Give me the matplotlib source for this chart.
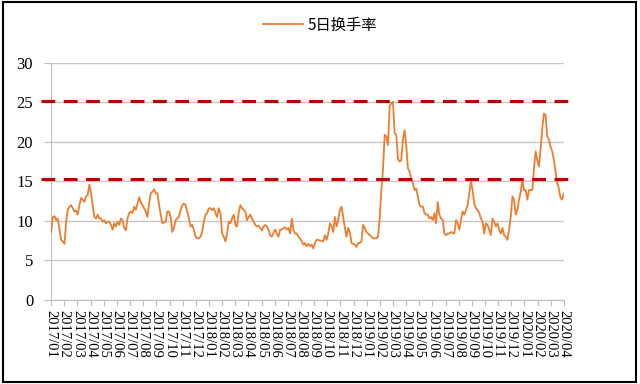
import numpy as np
import matplotlib
matplotlib.use("Agg")
import matplotlib.pyplot as plt
from matplotlib.patches import Rectangle

# 月度刻度标签 2017/01 - 2020/04
months = [f"{y}/{m:02d}" for y in range(2017, 2021) for m in range(1, 13)][:40]

# 5日换手率 (从图上读取, 大致等间隔采样)
turnover_2017_2018 = [
    8.6, 10.5, 10.6, 10.1, 10.3, 8.9, 7.6, 7.4, 7.1, 9.9, 11.4, 11.8, 12.0, 11.6, 11.2,
    11.3, 10.8, 12.0, 12.9, 12.7, 12.4, 13.1, 13.3, 14.6, 13.5, 12.0, 10.5, 10.3, 10.8,
    10.3, 10.3, 9.9, 10.1, 9.7, 9.9, 9.9, 9.5, 8.9, 9.7, 9.3, 9.9, 9.5, 10.3, 10.1, 9.1,
    8.8, 10.3, 11.0, 11.2, 11.0, 11.8, 11.4, 12.2, 13.0, 12.4, 12.0, 11.6, 11.2, 10.5,
    12.2, 13.5, 13.7, 14.0, 13.5, 13.5, 12.0, 10.8, 9.7, 9.8, 9.9, 11.2, 11.2, 10.5, 8.6,
    9.1, 10.1, 10.3, 10.5, 11.4, 12.0, 12.2, 12.0, 11.2, 10.3, 9.3, 9.5, 8.9, 8.0, 7.8,
    7.8, 8.0, 8.6, 9.9, 10.8, 11.0, 11.6, 11.6, 11.4, 11.6, 11.0, 10.5, 11.6, 11.0, 8.4,
    8.0, 7.4, 8.4, 9.9, 9.7, 10.3, 10.8, 9.5, 9.3, 11.0, 12.0, 11.6, 11.4, 11.2, 10.1,
    10.5, 10.8, 10.3, 9.9, 9.5, 9.3, 9.4, 9.1, 8.8, 9.3, 9.5, 9.3, 8.9, 8.2, 8.0, 8.5,
    8.9, 8.4, 8.0, 8.9, 8.9, 9.1, 9.2, 8.9, 9.1, 8.4, 10.3, 8.9, 8.4, 8.4, 8.0, 7.8, 7.4,
    7.0, 7.2, 6.8, 7.1, 6.8, 7.0, 6.5, 7.2, 7.6, 7.6, 7.5, 7.5, 7.4, 8.2, 7.6, 8.4, 9.7,
    9.3, 8.6, 10.5,
]
turnover_2018_2020 = [
    9.3, 10.1, 11.4, 11.8, 10.5, 9.1, 8.0, 9.1, 8.6, 7.2, 7.1, 7.0, 6.7, 7.2, 7.2, 7.4,
    9.5, 9.1, 8.6, 8.4, 8.2, 8.0, 7.8, 7.8, 7.8, 8.0, 10.3, 13.9, 16.5, 20.9, 20.7, 19.6,
    24.5, 24.9, 25.1, 21.1, 20.9, 17.9, 17.5, 17.7, 20.3, 21.5, 19.6, 16.7, 16.2, 15.4,
    14.8, 13.9, 14.1, 13.1, 12.0, 11.8, 11.8, 11.0, 10.8, 10.8, 10.3, 10.5, 10.1, 11.0,
    9.7, 12.4, 10.8, 10.3, 10.1, 8.4, 8.2, 8.4, 8.4, 8.6, 8.5, 8.4, 10.1, 9.7, 8.9, 10.1,
    11.2, 10.8, 11.4, 12.0, 13.5, 15.0, 13.9, 12.2, 11.6, 11.4, 11.0, 10.3, 9.9, 8.4, 9.7,
    9.5, 8.9, 8.2, 10.3, 9.9, 9.3, 9.7, 8.9, 8.4, 9.1, 8.2, 8.0, 7.6, 8.9, 10.5, 13.1,
    12.7, 10.8, 11.4, 12.7, 13.7, 15.2, 13.9, 13.9, 12.7, 13.9, 13.9, 13.9, 16.7, 18.8,
    17.7, 16.9, 19.2, 21.7, 23.6, 23.4, 20.7, 20.3, 19.4, 18.8, 17.7, 16.2, 14.8, 14.1,
    12.9, 12.7, 13.5,
]
turnover = turnover_2017_2018 + turnover_2018_2020

# 参考线
upper_line = 25.2
lower_line = 15.3

plt.rcParams['font.family'] = ['Liberation Serif', 'Noto Sans CJK SC']

fig = plt.figure(figsize=(6.4, 3.84), dpi=100)
ax = fig.add_axes([0.08, 0.219, 0.801, 0.617])

x = np.linspace(0, len(months) - 1, len(turnover))
ax.plot(x, turnover, color='#ed7d31', lw=1.3, label='5日换手率', zorder=3)

# 红色虚线, 略超出绘图区
for lvl in (upper_line, lower_line):
    ax.axhline(lvl, xmin=-0.02, xmax=1.016, color='#c00000', lw=2.2,
               dashes=(4.5, 2.8), clip_on=False, zorder=4)

ax.set_xlim(0, len(months) - 1)
ax.set_ylim(0, 30)
ax.set_yticks(range(0, 31, 5))
ax.set_xticks(range(len(months)))
ax.set_xticklabels(months, rotation=-90, fontsize=10.5)
ax.tick_params(axis='y', labelsize=12, length=5, color='#bfbfbf', pad=8)
ax.tick_params(axis='x', length=4, color='#bfbfbf', pad=3)
ax.grid(axis='y', color='#c8c8c8', lw=1)
ax.set_axisbelow(True)
for s in ('top', 'right'):
    ax.spines[s].set_visible(False)
for s in ('left', 'bottom'):
    ax.spines[s].set_color('#bfbfbf')

leg = fig.legend(loc='center', bbox_to_anchor=(0.5, 0.935), frameon=False,
                 prop={'family': ['Noto Sans CJK SC'], 'size': 11},
                 handlelength=2.6, handletextpad=0.3)

fig.patches.append(Rectangle((0.004, 0.006), 0.99, 0.988, transform=fig.transFigure,
                             fill=False, edgecolor='black', lw=1.5))

fig.savefig('out.png', dpi=100)
